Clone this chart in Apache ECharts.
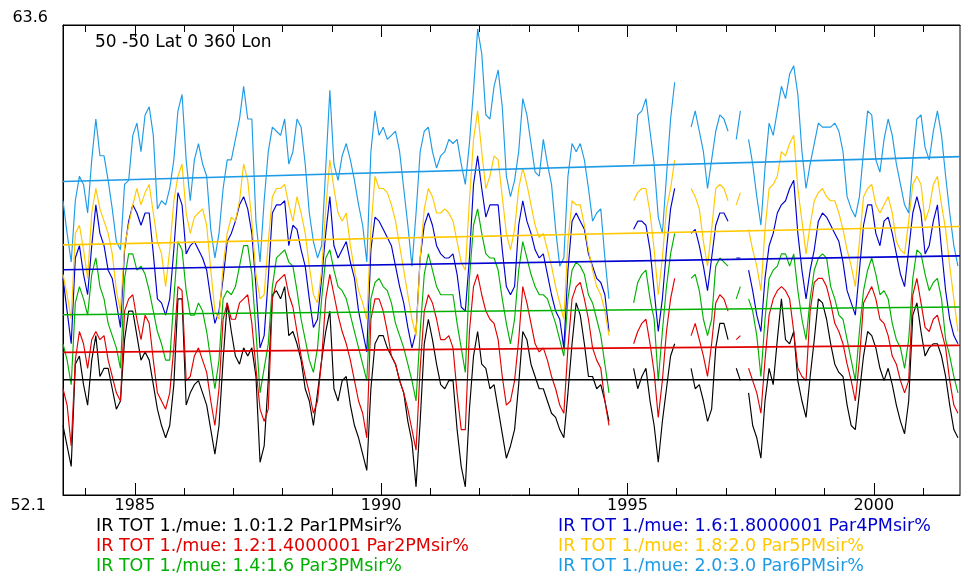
<!DOCTYPE html>
<html><head><meta charset="utf-8">
<script src="https://cdn.jsdelivr.net/npm/echarts@6/dist/echarts.min.js"></script>
<style>html,body{margin:0;padding:0;background:#fff}#c{width:963px;height:577px}</style>
</head><body><div id="c"></div>
<script>
// ---- chart text ----
const chartTitle = '50 -50 Lat 0 360 Lon';
const seriesNames = [
  'IR TOT 1./mue: 1.0:1.2 Par1PMsir%',
  'IR TOT 1./mue: 1.2:1.4000001 Par2PMsir%',
  'IR TOT 1./mue: 1.4:1.6 Par3PMsir%',
  'IR TOT 1./mue: 1.6:1.8000001 Par4PMsir%',
  'IR TOT 1./mue: 1.8:2.0 Par5PMsir%',
  'IR TOT 1./mue: 2.0:3.0 Par6PMsir%'
];
const seriesColors = ['#000000', '#e00000', '#00b000', '#0000d0', '#ffc800', '#1e9be6'];

// ---- axes ----
const startYear = 1983, startMonth = 7;          // first monthly value: July 1983
const xRange = [1983.5417, 2001.75];
const yRange = [52.1, 63.6];
const yTickLabels = ['63.6', '52.1'];
const majorYears = [1985, 1990, 1995, 2000];
const minorYears = [1984, 1986, 1987, 1988, 1989, 1991, 1992, 1993, 1994, 1996, 1997, 1998, 1999, 2001];

// ---- linear trend lines (value at first and last month) ----
const trendStart = [54.92, 55.59, 56.51, 57.61, 58.22, 59.77];
const trendEnd   = [54.92, 55.76, 56.70, 57.95, 58.67, 60.38];

// ---- monthly values ----
const par1 = [
53.8,53.3,52.8,55.3,55.5,54.8,54.3,55.4,56.0,55.0,
55.2,55.2,54.7,54.2,54.4,55.9,56.6,56.6,56.0,55.4,
55.6,55.4,54.8,54.2,53.8,53.5,53.8,54.8,56.9,56.9,
54.3,54.6,54.8,54.9,54.6,54.3,53.7,53.1,53.8,55.4,
56.8,56.1,55.5,55.3,55.7,55.5,55.7,55.0,52.9,53.3,
54.9,57.0,57.1,56.9,57.2,56.0,56.1,55.8,55.4,54.7,
54.4,53.8,54.6,55.4,56.1,56.6,54.7,54.4,54.9,55.0,
54.3,53.8,53.5,53.1,52.7,54.7,55.8,56.0,56.0,55.7,
55.5,55.3,54.9,54.6,53.9,53.4,52.3,53.9,55.8,56.4,
55.9,55.3,54.8,54.7,54.9,54.9,53.7,52.8,52.3,54.2,
55.5,56.1,55.3,55.2,54.7,54.8,54.2,53.6,53.0,53.3,
53.7,54.8,56.1,55.9,55.3,55.0,54.7,54.7,54.4,54.1,
54.0,53.7,53.5,54.6,55.8,56.8,56.5,55.8,55.0,55.0,
54.7,54.8,54.4,53.9,null,null,null,null,null,55.2,
54.7,55.0,55.2,54.4,53.8,52.9,53.9,54.7,55.5,55.8,
null,null,null,55.2,54.7,54.8,54.4,53.9,54.2,55.7,
56.3,56.3,55.9,null,55.2,54.9,null,54.6,53.8,53.5,
53.0,54.4,55.2,54.8,55.9,56.9,55.9,55.8,56.1,54.9,
54.4,54.0,55.0,55.9,56.9,56.8,56.4,55.8,55.3,55.1,
55.0,54.3,53.8,53.7,54.6,55.5,56.1,56.0,55.7,55.2,
54.9,55.2,54.8,54.3,53.9,53.6,54.4,56.5,56.8,56.1,
55.5,55.7,55.8,55.8,55.5,55.0,54.3,53.7,53.5
];
const par2 = [
54.7,54.3,53.3,55.4,56.1,55.8,55.2,55.9,56.1,55.9,
56.0,55.4,55.0,54.6,54.4,56.6,56.9,57.0,56.4,55.9,
56.5,56.3,55.4,54.6,54.4,54.2,54.6,55.7,57.2,57.1,
54.9,55.0,55.5,55.7,55.4,55.1,54.4,53.8,54.7,56.4,
56.8,56.4,56.4,56.8,56.9,57.0,56.3,55.2,54.2,53.9,
54.2,56.9,57.3,57.4,57.5,57.0,56.7,56.1,55.5,55.0,
54.6,54.1,54.4,55.4,56.9,57.5,57.0,56.5,56.1,55.8,
55.4,54.9,54.4,54.1,53.5,56.4,56.9,56.9,56.6,56.1,
55.5,55.3,54.9,54.6,54.2,53.7,53.2,55.2,56.6,57.0,
56.8,56.4,55.9,55.9,56.0,55.7,54.6,53.7,53.7,56.1,
57.2,57.5,57.0,56.6,56.4,56.3,55.9,55.0,54.3,54.4,
54.9,55.9,57.2,56.8,56.3,55.8,55.6,55.7,55.4,55.0,
54.7,54.3,54.1,55.7,56.9,57.2,57.3,56.9,56.4,55.7,
55.4,55.2,54.4,53.8,null,null,null,null,null,55.8,
56.1,56.3,56.4,55.8,55.1,54.0,54.9,56.1,56.9,57.4,
null,null,null,56.0,56.3,55.9,55.5,55.0,55.8,56.8,
57.0,56.9,56.6,null,55.9,56.0,null,55.2,54.9,54.6,
54.1,55.4,56.5,56.9,57.1,57.2,57.1,56.9,56.1,55.2,
55.0,54.9,56.6,57.3,57.4,57.4,57.2,56.8,56.3,56.1,
55.8,55.3,54.9,54.4,55.4,56.8,57.0,57.2,56.9,56.4,
56.3,56.0,55.5,55.3,54.9,54.6,54.9,57.0,57.4,56.8,
56.2,56.1,56.4,56.5,56.1,55.7,54.9,54.3,54.1
];
const par3 = [
55.8,55.4,54.8,56.8,57.2,56.9,56.5,57.5,57.9,57.2,
56.9,56.3,56.0,55.7,55.2,57.4,58.0,58.0,57.6,57.7,
57.5,57.1,56.6,56.1,55.8,55.4,55.4,56.9,58.3,58.1,
57.1,56.5,56.5,56.8,56.6,56.1,55.4,54.7,55.4,56.9,
57.1,57.0,57.2,57.7,58.2,58.2,57.5,56.1,54.6,55.2,
55.8,57.2,57.9,58.0,58.1,57.8,57.7,57.1,56.4,55.9,
55.4,55.1,55.7,56.9,57.9,58.1,57.6,57.2,57.1,56.9,
56.5,56.1,55.7,55.3,54.9,56.9,57.3,57.4,57.2,57.1,
56.8,56.3,56.0,55.7,55.3,54.9,54.4,56.1,57.5,58.0,
57.6,57.2,57.0,57.0,57.0,57.0,56.3,55.7,55.1,57.4,
58.7,59.1,58.5,58.0,57.9,57.9,57.6,56.9,56.3,55.8,
56.4,57.6,58.3,57.9,57.5,57.2,57.0,57.0,56.9,56.6,
56.3,55.9,55.5,56.9,57.6,57.8,57.7,57.5,57.0,56.8,
56.4,56.0,55.3,54.6,null,null,null,null,null,56.8,
57.3,57.5,57.6,56.9,56.4,54.9,56.1,57.2,58.0,58.5,
null,null,null,57.4,57.5,57.1,56.4,56.0,56.4,57.7,
57.9,57.8,57.7,null,56.9,57.2,null,56.9,56.6,56.0,
55.0,56.4,57.4,57.6,57.7,58.0,58.0,57.7,58.0,57.1,
56.4,55.9,56.9,57.6,57.9,58.0,57.9,57.2,56.9,56.5,
56.4,55.9,55.4,54.9,56.1,57.1,57.6,57.9,57.5,57.0,
57.1,56.9,56.3,55.9,55.7,55.2,55.9,57.4,58.1,58.0,
57.5,57.1,57.3,57.4,56.9,55.9,55.5,55.0,54.6
];
const par4 = [
57.4,56.6,55.8,57.9,58.2,57.5,57.0,58.2,59.2,58.5,
58.2,57.6,57.4,56.8,56.2,58.1,58.8,59.2,59.0,58.7,
59.0,59.0,58.0,56.9,56.8,56.5,56.9,58.1,59.5,59.2,
58.0,58.2,58.3,58.1,57.9,57.6,56.9,56.3,56.6,57.4,
58.3,58.5,58.8,59.2,59.4,59.1,58.5,57.2,55.7,56.0,
57.4,59.0,59.2,59.2,59.3,58.2,58.7,58.6,58.1,57.7,
56.9,56.2,56.4,57.4,58.5,59.4,58.2,57.9,58.1,58.3,
57.8,57.4,56.6,56.1,55.6,58.1,58.9,58.8,58.6,58.4,
58.2,57.7,57.2,56.8,56.2,55.7,56.1,57.9,58.7,59.0,
58.7,58.2,58.0,57.9,57.9,58.0,57.5,56.7,56.6,57.9,
59.7,60.4,59.6,58.9,59.2,59.2,59.2,58.1,57.2,57.0,
57.2,58.7,59.3,58.8,58.5,58.1,57.9,58.0,57.5,57.0,
56.6,56.4,55.7,57.6,58.8,59.0,58.8,58.6,58.0,57.7,
57.4,57.3,57.0,56.1,null,null,null,null,null,58.6,
58.8,58.8,58.7,58.1,57.1,56.1,56.9,58.1,59.1,59.6,
null,null,null,58.5,58.6,58.2,57.7,57.1,57.9,58.7,
59.0,59.0,58.8,null,57.9,57.9,null,57.6,57.1,56.5,
56.1,57.4,58.2,58.5,59.0,59.2,59.3,59.6,59.8,58.5,
57.6,56.9,57.6,58.1,58.8,59.0,58.9,58.7,58.5,58.3,
57.8,57.1,56.8,56.5,57.6,58.7,59.2,59.2,58.5,58.2,
58.8,58.9,58.5,58.0,57.5,57.2,58.1,59.0,59.4,59.0,
58.0,58.2,58.8,59.2,58.1,57.1,56.4,56.0,55.8
];
const par5 = [
57.5,57.0,56.4,58.5,58.7,58.1,57.4,59.0,59.6,59.1,
58.8,58.5,58.0,57.1,56.6,58.2,58.7,59.2,59.6,59.2,
59.5,59.7,59.0,58.3,58.0,57.2,58.1,59.3,59.9,60.2,
59.0,58.5,58.9,59.0,59.1,58.7,57.6,56.6,56.4,57.7,
58.5,58.9,58.8,59.3,60.2,59.8,58.8,57.5,56.9,57.0,
58.3,59.4,59.6,59.6,59.7,59.2,58.8,59.4,59.0,58.5,
57.7,57.0,56.8,57.6,59.1,60.3,59.6,59.0,58.8,59.0,
58.2,57.6,57.1,56.8,56.4,58.6,59.9,59.6,59.6,59.5,
59.2,58.8,58.2,57.6,57.0,56.4,56.0,57.9,59.1,59.6,
59.4,59.0,59.0,59.1,59.0,58.8,58.3,57.8,57.6,59.3,
60.8,61.5,60.5,59.6,59.9,60.4,60.3,59.4,58.5,58.1,
58.6,59.6,60.1,59.7,59.2,58.7,58.4,58.5,58.1,57.7,
57.2,56.8,56.4,58.3,59.3,59.2,59.2,58.7,58.1,57.6,
57.2,57.0,56.6,56.0,null,null,null,null,null,59.3,
59.5,59.6,59.6,59.0,58.1,57.0,57.9,59.1,59.6,60.3,
null,null,null,59.6,59.4,59.1,58.3,57.7,58.6,59.6,
59.7,59.6,59.3,null,59.2,59.5,null,58.6,58.1,57.7,
57.1,58.6,59.6,59.7,59.9,60.5,60.4,60.7,60.9,59.6,
58.8,58.0,58.7,59.3,59.5,59.6,59.4,59.3,59.3,59.0,
58.6,58.1,57.7,57.2,58.3,59.4,59.6,59.7,59.2,59.0,
59.2,59.4,59.0,58.3,58.1,58.0,58.8,59.7,59.9,59.7,
58.8,59.1,59.7,59.9,59.2,58.6,57.7,56.9,56.1
];
const par6 = [
59.3,58.5,57.8,59.3,59.9,59.7,59.0,60.3,61.3,60.4,
60.4,59.8,59.1,58.3,58.1,59.7,59.8,60.9,61.2,60.5,
61.4,61.6,60.9,59.1,59.3,59.2,59.6,60.3,61.5,61.9,
60.3,59.3,60.3,60.7,60.2,59.9,58.6,57.9,58.5,59.6,
60.3,60.3,60.8,61.3,62.1,61.3,61.3,58.8,57.8,59.3,
60.5,61.1,61.0,60.9,61.3,60.2,60.5,61.3,61.1,60.2,
59.0,58.3,57.9,58.2,60.1,62.0,60.2,59.8,60.4,60.7,
60.3,59.8,59.2,58.7,57.8,60.5,61.5,60.9,61.1,60.8,
60.9,61.0,60.5,59.6,58.7,57.7,59.0,60.5,61.0,61.1,
60.5,60.1,60.4,60.5,60.8,60.7,60.8,60.2,59.7,60.7,
62.0,63.5,62.9,61.4,61.3,62.1,62.5,61.6,59.9,59.4,
59.8,60.5,61.8,61.4,60.7,60.0,59.9,60.8,60.2,59.7,
58.6,57.7,57.9,59.9,60.7,60.5,60.7,60.3,59.6,58.8,
59.0,59.1,57.9,56.9,null,null,null,null,null,60.2,
61.4,61.5,61.8,61.0,60.2,58.9,58.5,59.9,61.3,62.2,
null,null,null,61.1,61.5,61.0,60.5,59.6,60.3,61.0,
61.4,61.3,61.0,null,60.8,61.5,null,60.8,60.2,59.4,
58.7,60.1,61.2,60.9,61.5,62.1,61.8,62.4,62.6,61.9,
60.5,59.6,60.2,60.7,61.2,61.1,61.1,61.1,61.2,61.0,
60.5,59.4,59.1,58.9,59.4,60.5,61.5,61.4,60.3,60.0,
60.8,61.3,60.9,60.2,59.7,59.2,59.0,60.3,61.3,61.4,
60.6,60.3,61.0,61.5,60.9,59.9,59.0,58.2,57.7
];
const allValues = [par1, par2, par3, par4, par5, par6];

// decimal-year position of each month (mid-month)
const monthX = par1.map((_, i) => startYear + (startMonth - 1 + i + 0.5) / 12);

const FONT = '"DejaVu Sans", Verdana, sans-serif';

const series = [];
allValues.forEach((vals, k) => {
  series.push({
    name: seriesNames[k], type: 'line', showSymbol: false, symbol: 'none',
    connectNulls: false, silent: true, z: 2 + k,
    lineStyle: { color: seriesColors[k], width: 1.15 },
    itemStyle: { color: seriesColors[k] },
    data: vals.map((v, i) => [monthX[i], v === null ? '-' : v])
  });
});
allValues.forEach((vals, k) => {
  series.push({
    name: 'trend' + (k + 1), type: 'line', showSymbol: false, symbol: 'none', silent: true, z: 10 + k,
    lineStyle: { color: seriesColors[k], width: 1.6 },
    data: [[xRange[0], trendStart[k]], [xRange[1], trendEnd[k]]]
  });
});

function xAx(pos, vals, len, withLabels, showLine) {
  return {
    type: 'value', position: pos, min: xRange[0], max: xRange[1],
    axisLine: { show: showLine, lineStyle: { color: '#000', width: 1 } },
    splitLine: { show: false },
    axisTick: { show: true, inside: true, length: len, customValues: vals, lineStyle: { color: '#000', width: 1 } },
    axisLabel: withLabels ? { show: true, customValues: vals, margin: 3, color: '#000', fontFamily: FONT, fontSize: 16,
      formatter: v => String(Math.round(v)) } : { show: false }
  };
}

// one legend component per entry: two columns of three rows
const legends = seriesNames.map((n, k) => ({
  left: k < 3 ? 90 : 552, top: 516 + (k % 3) * 20,
  orient: 'horizontal', padding: 0, itemWidth: 0, itemHeight: 0, itemGap: 0, selectedMode: false,
  data: [{ name: n, textStyle: { color: seriesColors[k] } }],
  textStyle: { fontFamily: FONT, fontSize: 17.5, lineHeight: 20 }
}));

const chart = echarts.init(document.getElementById('c'), null, { renderer: 'canvas' });
chart.setOption({
  animation: false,
  backgroundColor: '#ffffff',
  grid: { left: 63, right: 3, top: 25, bottom: 82, show: true, borderColor: '#000', borderWidth: 1, backgroundColor: 'transparent' },
  xAxis: [
    xAx('bottom', majorYears, 12, true, true),
    xAx('bottom', minorYears, 7, false, false),
    xAx('top', majorYears, 12, false, true),
    xAx('top', minorYears, 7, false, false)
  ],
  yAxis: {
    type: 'value', min: yRange[0], max: yRange[1],
    axisLine: { show: true, lineStyle: { color: '#000' } },
    axisTick: { show: false }, axisLabel: { show: false }, splitLine: { show: false }
  },
  legend: legends,
  graphic: [
    { type: 'text', x: 95, y: 43, style: { text: chartTitle, font: '17px ' + FONT, fill: '#000', align: 'left', verticalAlign: 'middle' } },
    { type: 'text', x: 48, y: 18, style: { text: yTickLabels[0], font: '16px ' + FONT, fill: '#000', align: 'right', verticalAlign: 'middle' } },
    { type: 'text', x: 46, y: 506, style: { text: yTickLabels[1], font: '16px ' + FONT, fill: '#000', align: 'right', verticalAlign: 'middle' } }
  ],
  series: series
});
</script>
</body></html>
